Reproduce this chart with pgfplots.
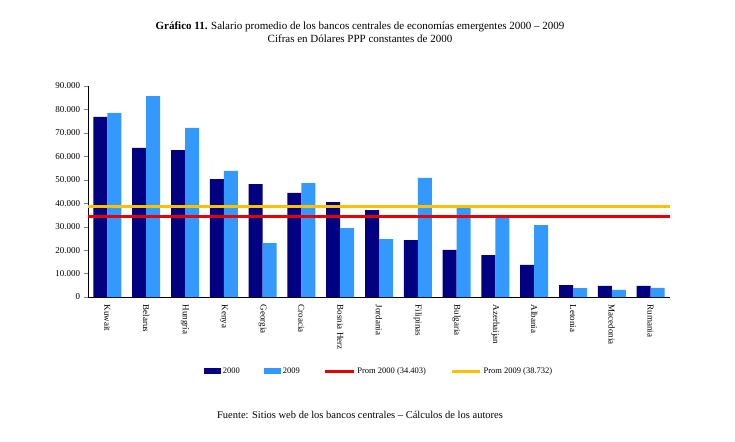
\documentclass[border=0pt]{standalone}
\usepackage{pgfplots}
\pgfplotsset{compat=1.18}
\usepackage{fontspec}
\setmainfont{Liberation Serif}
\definecolor{navy}{RGB}{0,0,128}
\definecolor{lblue}{RGB}{51,153,255}
\definecolor{pred}{RGB}{230,0,0}
\definecolor{pgold}{RGB}{255,192,0}
\begin{document}
\begin{tikzpicture}
\useasboundingbox (-88pt,-144pt) rectangle (647pt,297pt);
\begin{axis}[at={(0,0)},anchor=south west,scale only axis,width=582pt,height=211pt,
 ybar=0pt,bar width=14pt,
 xmin=-0.5,xmax=14.5,ymin=0,ymax=90000,
 axis x line*=bottom,axis y line*=left,
 xtick=data,xtick style={draw=none},
 xticklabels={Kuwait,Belarus,Hungría,Kenya,Georgia,Croacia,Bosnia Herz,Jordania,Filipinas,Bulgaria,Azerbaijan,Albania,Letonia,Macedonia,Rumania},
 xticklabel style={rotate=-90,anchor=west,font=\fontsize{9}{10}\selectfont},
 ytick={0,10000,...,90000},
 yticklabel style={font=\fontsize{9}{10}\selectfont},
 scaled y ticks=false,
 /pgf/number format/.cd,1000 sep={.},assume math mode=true,
 /pgfplots/.cd,
 tick align=outside,
 legend columns=4,
 legend style={at={(rel axis cs:0.5,0)},yshift=-74pt,anchor=center,draw=none,font=\fontsize{8.5}{10}\selectfont,/tikz/every even column/.append style={column sep=22pt}},
 legend image code/.code={\draw[#1,draw=none] (0cm,-0.1cm) rectangle (0.6cm,0.1cm);},
]
\addplot[fill=navy,draw=none] coordinates {(0,76800)(1,63600)(2,62700)(3,50300)(4,48200)(5,44400)(6,40500)(7,37100)(8,24300)(9,20100)(10,17900)(11,13700)(12,5100)(13,4700)(14,4700)};
\addplot[fill=lblue,draw=none] coordinates {(0,78500)(1,85700)(2,72100)(3,53800)(4,23000)(5,48600)(6,29400)(7,24700)(8,50800)(9,38400)(10,34600)(11,30700)(12,3800)(13,3000)(14,3900)};
\addplot[sharp plot,pred,line width=3pt,bar shift=0pt,legend image code/.code={\draw[pred,line width=3pt] (0cm,0cm) -- (1cm,0cm);}] coordinates {(-0.5,34403)(14.5,34403)};
\addplot[sharp plot,pgold,line width=3pt,bar shift=0pt,legend image code/.code={\draw[pgold,line width=3pt] (0cm,0cm) -- (1cm,0cm);}] coordinates {(-0.5,38732)(14.5,38732)};
\legend{2000,2009,Prom 2000 (34.403),Prom 2009 (38.732)}
\end{axis}
\node[align=center,font=\fontsize{11}{13}\selectfont] at (272pt,265pt) {\textbf{Gráfico 11.} Salario promedio de los bancos centrales de economías emergentes 2000 -- 2009\\Cifras en Dólares PPP constantes de 2000};
\node[font=\fontsize{10.5}{12}\selectfont] at (272pt,-118pt) {Fuente: Sitios web de los bancos centrales -- Cálculos de los autores};
\end{tikzpicture}
\end{document}
